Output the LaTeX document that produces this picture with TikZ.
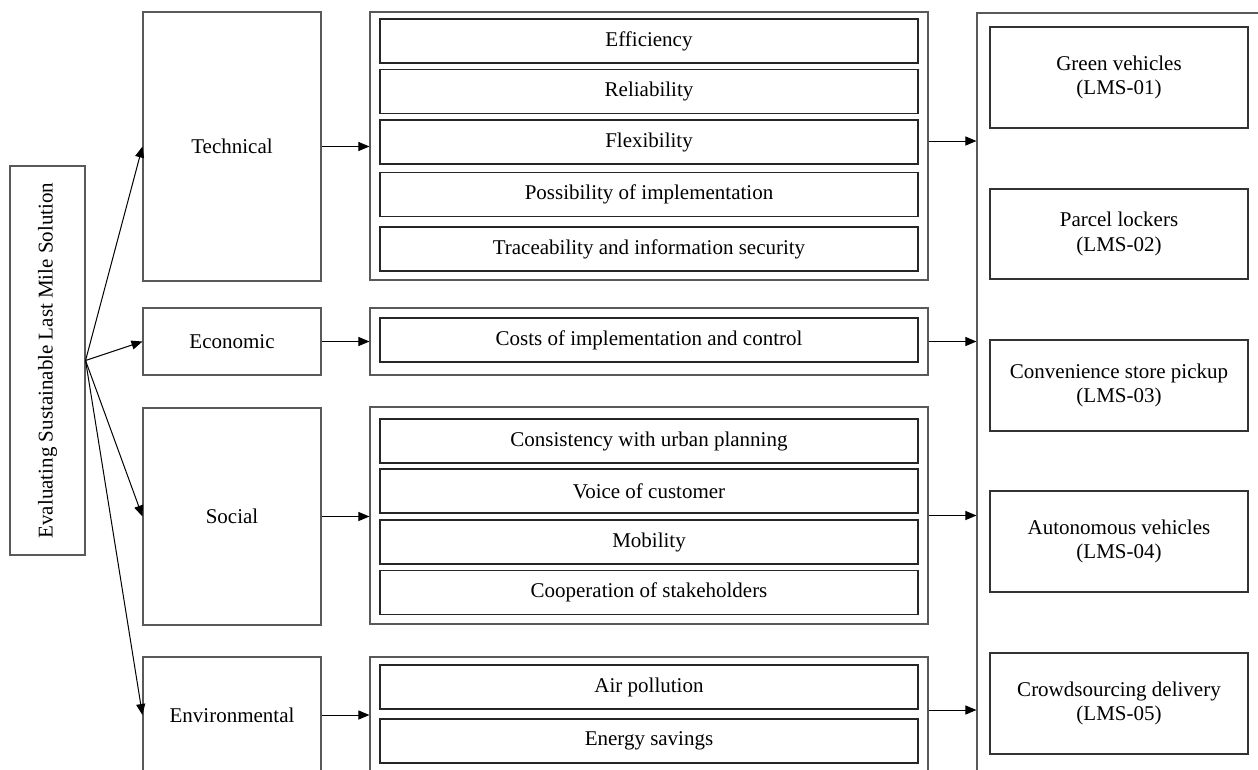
\documentclass[tikz,border=0pt]{standalone}
\usepackage{fontspec}
\setmainfont{Liberation Serif}
\usetikzlibrary{arrows.meta}

\tikzset{
  dimbox/.style={shape=rectangle,draw=black!65,line width=1.1pt,inner sep=0pt,align=center},
  critbox/.style={shape=rectangle,draw=black!85,line width=1.1pt,inner sep=0pt,minimum width=538pt,minimum height=44pt},
  lmsbox/.style={shape=rectangle,draw=black!80,line width=1.1pt,inner sep=0pt,minimum width=258pt,align=center},
  arr/.style={-{Triangle[length=11pt,width=9pt]},line width=1pt,black}
}

\begin{document}
\begin{tikzpicture}[x=1pt,y=-1pt,font=\fontsize{21}{24.5}\selectfont]
    \useasboundingbox (0,0) rectangle (1258,769);

    \node[dimbox,rotate=90,minimum width=389pt,minimum height=75pt] (Evaluating) at (47.5,360.5) {Evaluating Sustainable Last Mile Solution};

    \node[dimbox,minimum width=178pt,minimum height=269pt] (Technical) at (232,146.5) {Technical};
    \node[dimbox,minimum width=178pt,minimum height=67pt] (Economic) at (232,341.5) {Economic};
    \node[dimbox,minimum width=178pt,minimum height=217pt] (Social) at (232,516.5) {Social};
    \node[dimbox,minimum width=178pt,minimum height=116pt] (Environmental) at (232,715) {Environmental};

    \node[dimbox,minimum width=558pt,minimum height=268pt] (TechnicalGroup) at (649,146) {};
    \node[dimbox,minimum width=558pt,minimum height=67pt] (EconomicGroup) at (649,341.5) {};
    \node[dimbox,minimum width=558pt,minimum height=217pt] (SocialGroup) at (649,515.5) {};
    \node[dimbox,minimum width=558pt,minimum height=116pt] (EnvironmentalGroup) at (649,715) {};

    \node[critbox] (Efficiency) at (649,41) {Efficiency};
    \node[critbox] (Reliability) at (649,91.5) {Reliability};
    \node[critbox] (Flexibility) at (649,142) {Flexibility};
    \node[critbox] (Possibility) at (649,194.5) {Possibility of implementation};
    \node[critbox] (Traceability) at (649,249) {Traceability and information security};

    \node[critbox] (Costs) at (649,340) {Costs of implementation and control};

    \node[critbox] (Consistency) at (649,441) {Consistency with urban planning};
    \node[critbox] (Voice) at (649,491) {Voice of customer};
    \node[critbox] (Mobility) at (649,542) {Mobility};
    \node[critbox] (Cooperation) at (649,592.5) {Cooperation of stakeholders};

    \node[critbox] (AirPollution) at (649,687) {Air pollution};
    \node[critbox] (EnergySavings) at (649,741) {Energy savings};

    \node[dimbox,minimum width=293pt,minimum height=767pt] (Solutions) at (1123.5,396.5) {};

    \node[lmsbox,minimum height=101pt] (GreenVehicles) at (1119,77.5) {Green vehicles\\(LMS-01)};
    \node[lmsbox,minimum height=90pt] (ParcelLockers) at (1119,234) {Parcel lockers\\(LMS-02)};
    \node[lmsbox,minimum height=91pt] (StorePickup) at (1119,385.5) {Convenience store pickup\\(LMS-03)};
    \node[lmsbox,minimum height=101pt] (AutonomousVehicles) at (1119,541.5) {Autonomous vehicles\\(LMS-04)};
    \node[lmsbox,minimum height=101pt] (Crowdsourcing) at (1119,703.5) {Crowdsourcing delivery\\(LMS-05)};

    \path [arr] (Evaluating.south) edge (Technical.west);
    \path [arr] (Evaluating.south) edge (Economic.west);
    \path [arr] (Evaluating.south) edge (Social.west);
    \path [arr] (Evaluating.south) edge (Environmental.west);

    \path [arr] (Technical.east) edge (Technical.east -| TechnicalGroup.west);
    \path [arr] (Economic.east) edge (Economic.east -| EconomicGroup.west);
    \path [arr] (Social.east) edge (Social.east -| SocialGroup.west);
    \path [arr] (Environmental.east) edge (Environmental.east -| EnvironmentalGroup.west);

    \path [arr] ([yshift=5pt]TechnicalGroup.east) edge ([yshift=5pt]TechnicalGroup.east -| Solutions.west);
    \path [arr] (EconomicGroup.east) edge (EconomicGroup.east -| Solutions.west);
    \path [arr] (SocialGroup.east) edge (SocialGroup.east -| Solutions.west);
    \path [arr] ([yshift=5pt]EnvironmentalGroup.east) edge ([yshift=5pt]EnvironmentalGroup.east -| Solutions.west);
\end{tikzpicture}
\end{document}
